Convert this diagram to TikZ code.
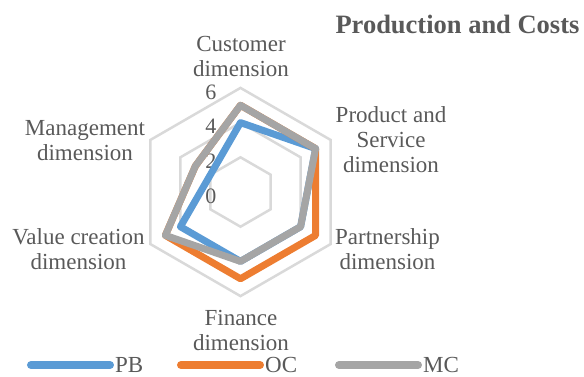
\documentclass[tikz,border=0pt]{standalone}
\usepackage{fontspec}
\setmainfont{Liberation Serif}
\usepackage{xcolor}
\definecolor{pbblue}{RGB}{91,155,213}
\definecolor{ocorange}{RGB}{237,125,49}
\definecolor{mcgray}{RGB}{165,165,165}
\definecolor{gridgray}{RGB}{217,217,217}
\definecolor{textgray}{RGB}{89,89,89}

\begin{document}
\begin{tikzpicture}[x=1pt, y=1pt,
	ring/.style={draw=gridgray, line width=2.5pt},
	series/.style={line width=7pt, line join=round},
	lbl/.style={text=textgray, font=\fontsize{23}{25}\selectfont, align=center, inner sep=0pt},
	key/.style={line width=8pt, line cap=round}]
	\useasboundingbox (-240.5,-184) rectangle (343.5,192);
	% Grid rings and axis values:
	\foreach \v in {2,4,6}
		\draw[ring] (90:\v*17.35) -- (30:\v*17.35) -- (-30:\v*17.35) -- (-90:\v*17.35) -- (210:\v*17.35) -- (150:\v*17.35) -- cycle;
	\foreach \v in {0,2,4,6}
		\node[lbl, font=\fontsize{22}{25}\selectfont] (tick\v) at (-29.5, \v*17.35-4) {\v};
	% Series:
	\draw[series, pbblue] (90:4*17.35) -- (30:5*17.35) -- (-30:4*17.35) -- (-90:4*17.35) -- (210:4*17.35) -- (150:2*17.35) -- cycle;
	\draw[series, ocorange] (90:5*17.35) -- (30:5*17.35) -- (-30:5*17.35) -- (-90:5*17.35) -- (210:5*17.35) -- (150:3*17.35) -- cycle;
	\draw[series, mcgray] (90:5*17.35) -- (30:5*17.35) -- (-30:4*17.35) -- (-90:4*17.35) -- (210:5*17.35) -- (150:3*17.35) -- cycle;
	% Axis names:
	\node[lbl] (cust) at (0.5, 135.5) {Customer\\dimension};
	\node[lbl] (prod) at (150.5, 52) {Product and\\Service\\dimension};
	\node[lbl] (part) at (147, -57.5) {Partnership\\dimension};
	\node[lbl] (fin) at (0.5, -138.5) {Finance\\dimension};
	\node[lbl] (value) at (-162, -57.5) {Value creation\\dimension};
	\node[lbl] (mgmt) at (-155.5, 51.5) {Management\\dimension};
	\node[lbl, font=\fontsize{26.5}{30}\selectfont\bfseries] (title) at (217, 168) {Production and Costs};
	% Legend:
	\node[lbl, anchor=west] (pbkey) at (-125.5, -173) {PB};
	\node[lbl, anchor=west] (ockey) at (24.5, -173) {OC};
	\node[lbl, anchor=west] (mckey) at (182.5, -173) {MC};
	\draw[key, pbblue] ([xshift=-84pt]pbkey.west) -- ([xshift=-5pt]pbkey.west);
	\draw[key, ocorange] ([xshift=-84pt]ockey.west) -- ([xshift=-5pt]ockey.west);
	\draw[key, mcgray] ([xshift=-84pt]mckey.west) -- ([xshift=-5pt]mckey.west);
\end{tikzpicture}
\end{document}
